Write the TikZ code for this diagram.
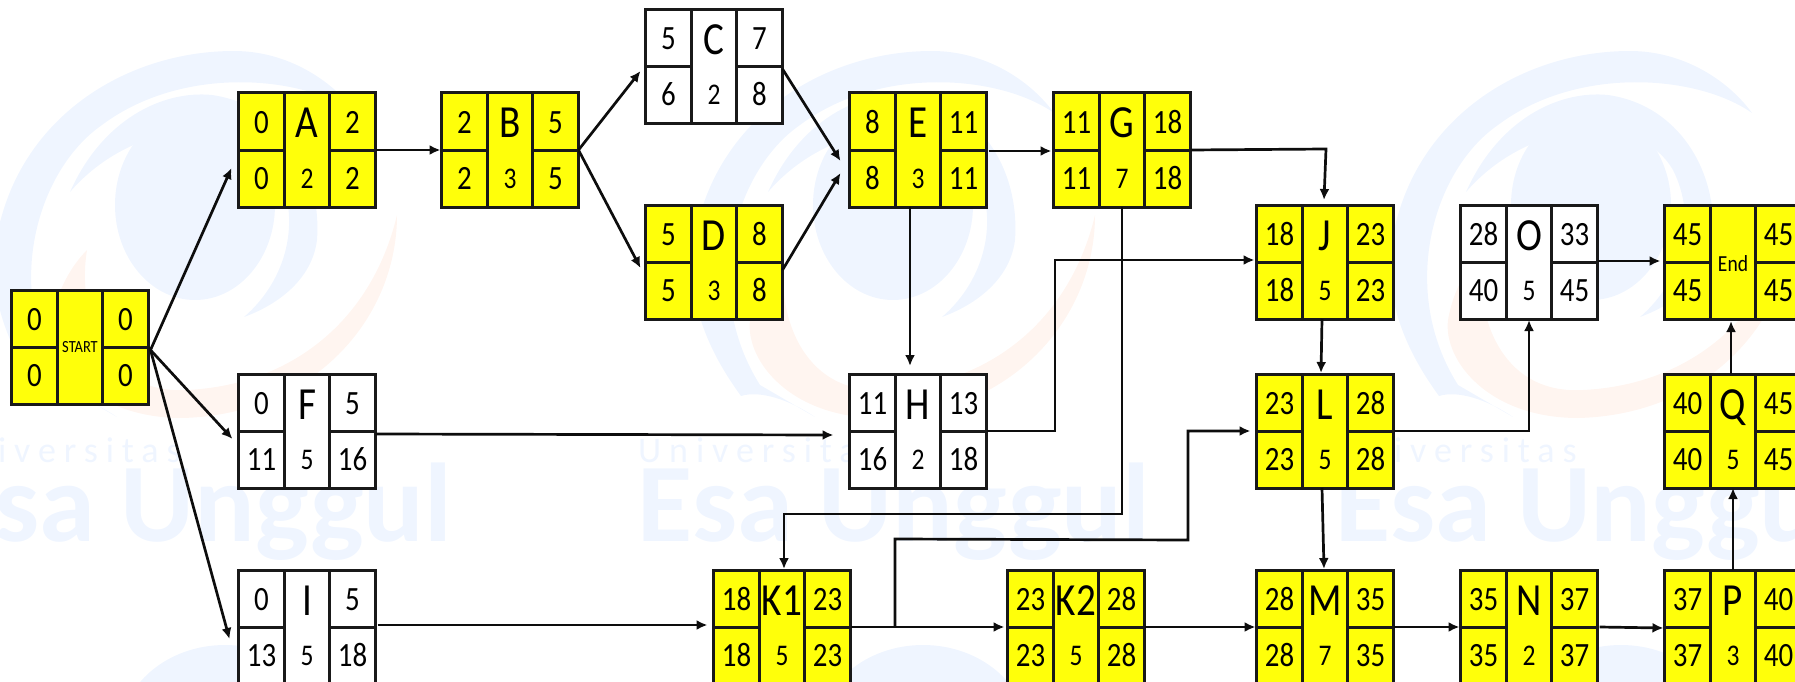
\documentclass[tikz,border=0pt]{standalone}
\usepackage{fontspec}
\usepackage{xcolor}
\usetikzlibrary{arrows.meta}
\setmainfont{Carlito}[FakeStretch=0.85]
\newfontfamily\markfont{Carlito}[LetterSpace=22]
\newfontfamily\brandfont{Carlito}[FakeStretch=1.01]
\definecolor{actyellow}{HTML}{FFFF0A}
\definecolor{markblue}{HTML}{EFF5FF}
\definecolor{markorange}{HTML}{FFF5F0}
\newcommand{\W}{22.8}
% name, centre, fill, ES, title, EF, LS, duration, LF
\newcommand{\actbox}[9]{%
  \node[actframe, fill=#3] (#1) at (#2) {};
  \draw[actline] ([shift={(-\W,0)}]#1.north) -- ([shift={(-\W,0)}]#1.south);
  \draw[actline] ([shift={(\W,0)}]#1.north) -- ([shift={(\W,0)}]#1.south);
  \draw[actline] (#1.west) -- ([shift={(-\W,0)}]#1.center);
  \draw[actline] (#1.east) -- ([shift={(\W,0)}]#1.center);
  \node[digit] (#1es) at ([shift={(-45.5,-17)}]#1.center) {#4};
  \node[title] (#1name) at ([shift={(0,-12)}]#1.center) {#5};
  \node[digit] (#1ef) at ([shift={(45.5,-17)}]#1.center) {#6};
  \node[digit] (#1ls) at ([shift={(-45.5,39)}]#1.center) {#7};
  \node[dur] (#1dur) at ([shift={(0,38)}]#1.center) {#8};
  \node[digit] (#1lf) at ([shift={(45.5,39)}]#1.center) {#9};
}
% one watermark, pale, moved by #1
\newcommand{\markset}[2]{%
  \begin{scope}[shift={(#1,0)}]
    \fill[markblue] (741,396) .. controls (700,340) and (680,280) .. (700,215)
      .. controls (730,110) and (830,51) .. (932,51)
      .. controls (985,51) and (1030,80) .. (1054,113)
      .. controls (1000,75) and (880,65) .. (800,125)
      .. controls (735,170) and (700,290) .. (760,385)
      -- (815,417) .. controls (790,400) and (760,390) .. (741,396) -- cycle;
    \fill[markblue] (768,192) .. controls (800,120) and (860,90) .. (910,95)
      .. controls (980,105) and (1020,170) .. (1015,240)
      .. controls (1010,280) and (975,305) .. (942,317)
      .. controls (985,280) and (1000,220) .. (975,170)
      .. controls (940,110) and (830,120) .. (768,192) -- cycle;
    \fill[markblue] (893,205) ellipse [x radius=80, y radius=95];
    \fill[markorange] (1095,215) .. controls (1095,320) and (1010,415) .. (880,418)
      .. controls (790,418) and (745,360) .. (750,320)
      .. controls (755,290) and (770,265) .. (785,250)
      .. controls (775,310) and (800,395) .. (885,390)
      .. controls (990,385) and (1070,320) .. (1095,215) -- cycle;
    \fill[markblue] (923,735) ellipse [x radius=105, y radius=90];
    \node[anchor=base west, inner sep=0pt, text=markblue, font=\markfont\fontsize{36}{36}\selectfont] (#2uni) at (638,462) {Universitas};
    \node[anchor=base west, inner sep=0pt, text=markblue, font=\brandfont\bfseries\fontsize{112}{112}\selectfont] (#2esa) at (637,541) {Esa Unggul};
  \end{scope}
}

\begin{document}
\begin{tikzpicture}[x=1pt, y=-1pt, >={Latex[length=11pt,width=10pt]},
    actframe/.style={draw=black!90, line width=3pt, rectangle, inner sep=0pt, outer sep=0pt, minimum width=137pt, minimum height=114pt},
    actline/.style={draw=black!90, line width=3pt},
    digit/.style={anchor=base, inner sep=0pt, font=\fontsize{34}{34}\selectfont},
    title/.style={anchor=base, inner sep=0pt, font=\fontsize{46}{46}\selectfont},
    dur/.style={anchor=base, inner sep=0pt, font=\fontsize{30}{30}\selectfont},
    flow/.style={->, line width=2.7pt, draw=black!95}]
  \useasboundingbox (0,0) rectangle (1795,682);
  \clip (0,0) rectangle (1795,682);
  % Watermark
  \markset{-698}{marka}
  \markset{0}{markb}
  \markset{698}{markc}
  % Top rows
  \actbox{start}{80,347}{actyellow}{0}{}{0}{0}{}{0}
  \actbox{A}{307,150}{actyellow}{0}{A}{2}{0}{2}{2}
  \actbox{B}{510,150}{actyellow}{2}{B}{5}{2}{3}{5}
  \actbox{C}{714,67}{white}{5}{C}{7}{6}{2}{8}
  \actbox{D}{714,262}{actyellow}{5}{D}{8}{5}{3}{8}
  \actbox{E}{918,150}{actyellow}{8}{E}{11}{8}{3}{11}
  \actbox{G}{1122,150}{actyellow}{11}{G}{18}{11}{7}{18}
  \actbox{J}{1325,262}{actyellow}{18}{J}{23}{18}{5}{23}
  \actbox{O}{1529,262}{white}{28}{O}{33}{40}{5}{45}
  \actbox{end}{1733,262}{actyellow}{45}{}{45}{45}{}{45}
  % Middle row
  \actbox{F}{307,431}{white}{0}{F}{5}{11}{5}{16}
  \actbox{H}{918,431}{white}{11}{H}{13}{16}{2}{18}
  \actbox{L}{1325,431}{actyellow}{23}{L}{28}{23}{5}{28}
  \actbox{Q}{1733,431}{actyellow}{40}{Q}{45}{40}{5}{45}
  % Bottom row
  \actbox{I}{307,627}{white}{0}{I}{5}{13}{5}{18}
  \actbox{Kone}{782,627}{actyellow}{18}{K1}{23}{18}{5}{23}
  \actbox{Ktwo}{1076,627}{actyellow}{23}{K2}{28}{23}{5}{28}
  \actbox{M}{1325,627}{actyellow}{28}{M}{35}{28}{7}{35}
  \actbox{N}{1529,627}{actyellow}{35}{N}{37}{35}{2}{37}
  \actbox{P}{1733,627}{actyellow}{37}{P}{40}{37}{3}{40}
  % Small titles
  \node[inner sep=0pt, font=\fontsize{17}{17}\selectfont] (starttitle) at (start) {START};
  \node[inner sep=0pt, font=\fontsize{23}{23}\selectfont] (endtitle) at ([shift={(0,2)}]end.center) {End};
  % Bends
  \coordinate (gjbend) at (1326,149);
  \coordinate (gkdown) at (1122,514);
  \coordinate (gkleft) at (784,514);
  \coordinate (hjup) at (1055,431);
  \coordinate (hjright) at (1055,260);
  \coordinate (ksplit) at (895,626);
  \coordinate (klup) at (895,539);
  \coordinate (klright) at (1188,540);
  \coordinate (klover) at (1188,431);
  \coordinate (lobend) at (1529,431);
  % Arrows
  \draw[flow] ([shift={(2,3)}]start.east) -- ([shift={(-7,18)}]A.west);
  \draw[flow] ([shift={(2,3)}]start.east) -- ([shift={(-6,8)}]F.west);
  \draw[flow] ([shift={(2,3)}]start.east) -- ([shift={(-9,12)}]I.west);
  \draw[flow] (A.east) -- ([shift={(-1,0)}]B.west);
  \draw[flow] (B.east) -- ([shift={(-5,4)}]C.west);
  \draw[flow] (B.east) -- ([shift={(-5,6)}]D.west);
  \draw[flow] ([shift={(0,2)}]C.east) -- ([shift={(-9,11)}]E.west);
  \draw[flow] ([shift={(0,8)}]D.east) -- ([shift={(-9,23)}]E.west);
  \draw[flow] ([shift={(2,1)}]E.east) -- ([shift={(-2,1)}]G.west);
  \draw[flow] ([shift={(-8,0)}]E.south) -- ([shift={(-8,-8)}]H.north);
  \draw[flow] ([shift={(0,3)}]F.east) -- ([shift={(-16,4)}]H.west);
  \draw[flow] (G.east) -- (gjbend) -- ([shift={(-1,-5)}]J.north);
  \draw[flow] (H.east) -- (hjup) -- (hjright) -- ([shift={(-2,-2)}]J.west);
  \draw[flow] (G.south) -- (gkdown) -- (gkleft) -- ([shift={(2,-1)}]Kone.north);
  \draw[flow] ([shift={(2,-2)}]I.east) -- ([shift={(-6,-2)}]Kone.west);
  \draw[flow] (Kone.east) -- ([shift={(-3,0)}]Ktwo.west);
  \draw[flow] (ksplit) -- (klup) -- (klright) -- (klover) -- ([shift={(-6,0)}]L.west);
  \draw[flow] (Ktwo.east) -- ([shift={(-1,0)}]M.west);
  \draw[flow] ([shift={(-3,0)}]J.south) -- ([shift={(-4,-1)}]L.north);
  \draw[flow] ([shift={(-3,0)}]L.south) -- ([shift={(-1,-1)}]M.north);
  \draw[flow] (L.east) -- (lobend) -- ([shift={(0,1)}]O.south);
  \draw[flow] ([shift={(0,-1)}]O.east) -- ([shift={(-4,-1)}]end.west);
  \draw[flow] (M.east) -- ([shift={(-1,0)}]N.west);
  \draw[flow] ([shift={(2,0)}]N.east) -- ([shift={(-1,1)}]P.west);
  \draw[flow] (P.north) -- (Q.south);
  \draw[flow] ([shift={(-2,0)}]Q.north) -- ([shift={(-2,2)}]end.south);
\end{tikzpicture}
\end{document}
